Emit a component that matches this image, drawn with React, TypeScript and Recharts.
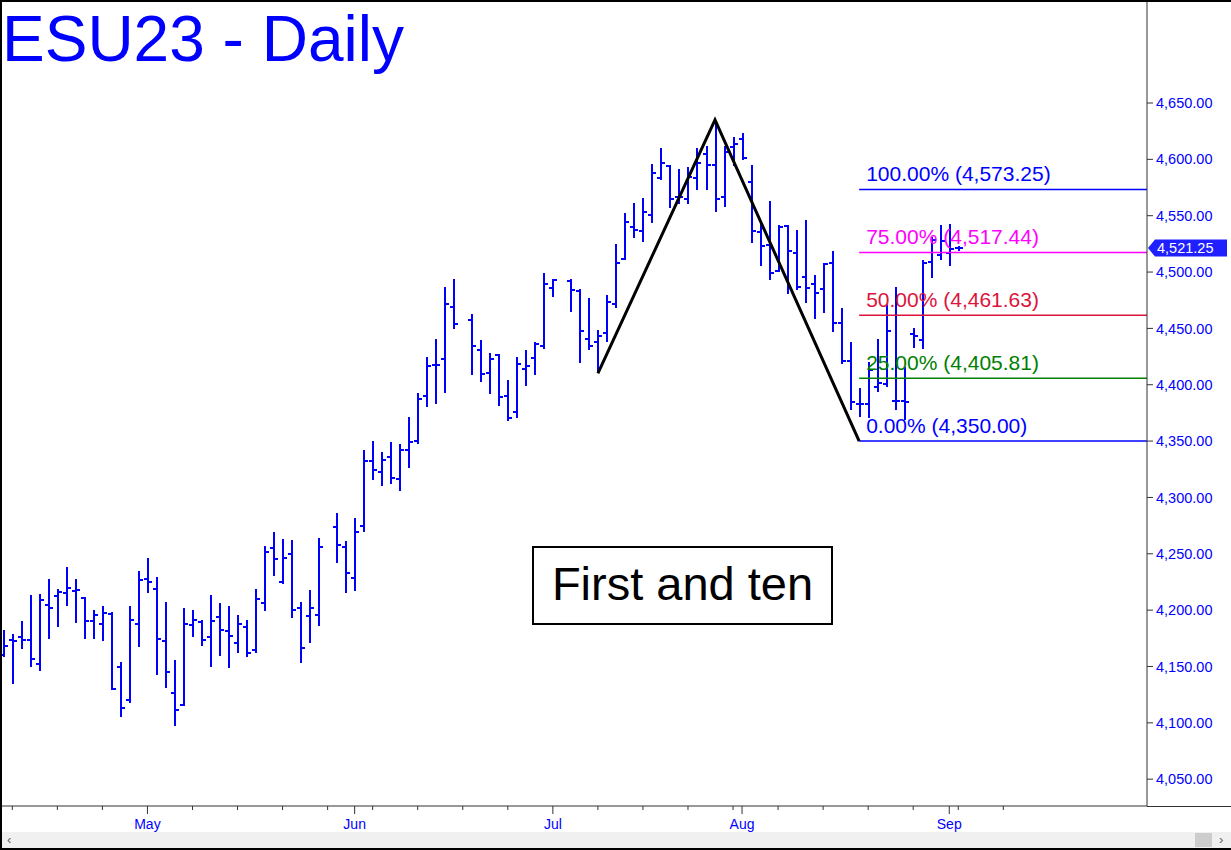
import React from "react";
import { ComposedChart, Bar, Line, XAxis, YAxis, ReferenceLine } from "recharts";

// calendar: one slot per weekday, exchange holidays left blank
const startDate = "2023-04-07";
const calendarEnd = "2023-09-11";
const holidays = ["2023-05-29", "2023-06-19", "2023-07-04"];
const monthNames = ["Jan", "Feb", "Mar", "Apr", "May", "Jun", "Jul", "Aug", "Sep", "Oct", "Nov", "Dec"];

// daily OHLC, one entry per session
const opens = [
  4160, 4174, 4176, 4173, 4152, 4205, 4213, 4215, 4217, 4211,
  4190, 4188, 4196, 4150, 4121, 4188, 4227, 4218, 4172, 4127,
  4116, 4187, 4189, 4176, 4194, 4182, 4171, 4185, 4165, 4206,
  4255, 4225, 4250, 4202, 4195, 4196,
  4274, 4256, 4229, 4275, 4332, 4322, 4336, 4316, 4342, 4350,
  4390, 4418, 4423, 4469,
  4458, 4431, 4410, 4426, 4390, 4376, 4414, 4424, 4434, 4486,
  4492, 4483, 4441, 4438, 4446, 4472, 4511, 4540, 4537, 4551,
  4583, 4594, 4566, 4565, 4583, 4605, 4595, 4567, 4611, 4618,
  4580, 4535, 4524, 4501, 4541, 4517, 4495, 4489, 4485, 4508,
  4455, 4421, 4383, 4383, 4398, 4401, 4386, 4386, 4445, 4440,
  4509, 4515, 4517, 4521,
];
const highs = [
  4182, 4179, 4190, 4213, 4214, 4228, 4219, 4238, 4228, 4212,
  4200, 4204, 4198, 4154, 4204, 4235, 4246, 4229, 4207, 4156,
  4202, 4200, 4191, 4213, 4206, 4204, 4196, 4191, 4219, 4257,
  4269, 4263, 4262, 4207, 4218, 4264,
  4286, 4261, 4282, 4342, 4350, 4340, 4349, 4347, 4371, 4393,
  4425, 4441, 4487, 4494,
  4463, 4440, 4428, 4427, 4404, 4425, 4431, 4438, 4499, 4494,
  4494, 4485, 4477, 4449, 4480, 4525, 4552, 4561, 4566, 4596,
  4610, 4595, 4591, 4593, 4610, 4612, 4634, 4612, 4620, 4623,
  4595, 4545, 4563, 4542, 4542, 4537, 4546, 4497, 4508, 4519,
  4468, 4438, 4397, 4420, 4441, 4472, 4487, 4416, 4450, 4511,
  4531, 4542, 4543, 4523,
];
const lows = [
  4158, 4135, 4165, 4149, 4146, 4175, 4185, 4203, 4189, 4175,
  4174, 4173, 4129, 4105, 4118, 4168, 4215, 4142, 4131, 4097,
  4115, 4176, 4168, 4149, 4159, 4149, 4162, 4158, 4162, 4199,
  4230, 4223, 4193, 4153, 4171, 4186,
  4242, 4215, 4217, 4269, 4315, 4310, 4312, 4305, 4326, 4348,
  4381, 4383, 4393, 4450,
  4409, 4403, 4392, 4381, 4368, 4371, 4399, 4409, 4432, 4478,
  4465, 4419, 4431, 4411, 4438, 4468, 4510, 4530, 4527, 4544,
  4582, 4557, 4560, 4560, 4573, 4573, 4553, 4558, 4594, 4599,
  4526, 4505, 4493, 4500, 4481, 4484, 4472, 4458, 4464, 4447,
  4418, 4378, 4371, 4370, 4394, 4398, 4378, 4369, 4432, 4432,
  4495, 4511, 4506, 4519,
];
const closes = [
  4168, 4173, 4173, 4156, 4209, 4202, 4216, 4219, 4218, 4191,
  4196, 4198, 4130, 4113, 4192, 4227, 4225, 4174, 4145, 4112,
  4188, 4191, 4173, 4190, 4182, 4177, 4188, 4162, 4210, 4252,
  4245, 4246, 4200, 4166, 4202, 4256,
  4258, 4233, 4270, 4332, 4324, 4333, 4317, 4342, 4349, 4388,
  4417, 4418, 4472, 4454,
  4435, 4410, 4423, 4389, 4370, 4419, 4417, 4436, 4489, 4493,
  4484, 4448, 4434, 4444, 4474, 4508, 4544, 4537, 4554, 4588,
  4597, 4565, 4566, 4584, 4597, 4595, 4565, 4607, 4614, 4601,
  4536, 4523, 4499, 4540, 4519, 4486, 4486, 4481, 4507, 4455,
  4421, 4385, 4383, 4413, 4402, 4448, 4386, 4385, 4443, 4508,
  4528, 4528, 4521, 4521.25,
];
const lastPrice = 4521.25;

// A-B-C swing drawn on the chart
const patternDates = ["2023-07-10", "2023-07-27", "2023-08-18"];
const patternPrices = [4410, 4635, 4350];

// retracement levels off the C low
const fibPercents = ["100.00%", "75.00%", "50.00%", "25.00%", "0.00%"];
const fibPrices = [4573.25, 4517.44, 4461.63, 4405.81, 4350.0];
const fibColors = ["#0000ff", "#ff00ff", "#dc143c", "#008000", "#0000ff"];

const priceTicks = [4050, 4100, 4150, 4200, 4250, 4300, 4350, 4400, 4450, 4500, 4550, 4600, 4650];
const yDomain = [4026.2, 4741.4];
const xDomain = [0.634, 127.95];

const BLUE = "#0000ff";
const FONT = "'Liberation Sans', Arial, sans-serif";

type Day = { slot: number; iso: string; wd: number; month: number };

function buildCalendar() {
  const days: Day[] = [];
  let t = Date.parse(startDate + "T00:00:00Z");
  const end = Date.parse(calendarEnd + "T00:00:00Z");
  let slot = 0;
  while (t <= end) {
    const d = new Date(t);
    const wd = d.getUTCDay();
    if (wd !== 0 && wd !== 6) {
      slot++;
      days.push({ slot, iso: d.toISOString().slice(0, 10), wd, month: d.getUTCMonth() });
    }
    t += 86400000;
  }
  return days;
}

const calendar = buildCalendar();
const sessions = calendar.filter((d) => !holidays.includes(d.iso));
const slotOf = (iso: string) => calendar.find((d) => d.iso === iso)!.slot;

const data = opens.map((o, i) => ({
  slot: sessions[i].slot,
  open: o,
  high: highs[i],
  low: lows[i],
  close: closes[i],
}));

const patternData = patternDates.map((iso, i) => ({ slot: slotOf(iso), price: patternPrices[i] }));
const fibStart = slotOf(patternDates[2]);

const majorTicks: Record<number, string> = {};
calendar.forEach((d, i) => {
  if (i > 0 && calendar[i - 1].month !== d.month) majorTicks[d.slot] = monthNames[d.month];
});
const xTicks = calendar.filter((d) => d.wd === 1 || majorTicks[d.slot]).map((d) => d.slot);

const fmtPrice = (v: number) =>
  v.toLocaleString("en-US", { minimumFractionDigits: 2, maximumFractionDigits: 2 });

const OhlcBar = (props: any) => {
  const { x, y, width, height, payload } = props;
  if (x == null || y == null) return null;
  const top = Math.round(Math.min(y, y + height));
  const h = Math.abs(height);
  const cx = Math.round(x + width / 2);
  const range = payload.high - payload.low || 1;
  const yOf = (v: number) => Math.round(top + ((payload.high - v) / range) * h);
  const oy = yOf(payload.open);
  const cy = yOf(payload.close);
  return (
    <g fill={BLUE} shapeRendering="crispEdges">
      <rect x={cx - 1} y={top} width={2} height={Math.max(Math.round(h), 2)} />
      <rect x={cx - 4} y={oy - 1} width={3} height={2} />
      <rect x={cx + 1} y={cy - 1} width={3} height={2} />
    </g>
  );
};

const DateTick = (props: any) => {
  const { x, y, payload } = props;
  const label = majorTicks[payload.value];
  return (
    <g>
      <line x1={x} x2={x} y1={y} y2={y + (label ? 8 : 4)} stroke="#333" strokeWidth={1} />
      {label && (
        <text x={x} y={y + 23} textAnchor="middle" fill={BLUE} fontSize={14} fontFamily={FONT}>
          {label}
        </text>
      )}
    </g>
  );
};

const fibLabel = (text: string, color: string) => (p: any) => {
  const vb = p.viewBox;
  return (
    <text x={vb.x + 7} y={vb.y - 8} fill={color} fontSize={21} fontFamily={FONT}>
      {text}
    </text>
  );
};

const priceTag = (p: any) => {
  const vb = p.viewBox;
  const x0 = vb.x + vb.width + 1;
  const yc = vb.y;
  return (
    <g>
      <path
        d={`M${x0},${yc} L${x0 + 7},${yc - 8.5} L${x0 + 79},${yc - 8.5} L${x0 + 79},${yc + 8.5} L${x0 + 7},${yc + 8.5} Z`}
        fill="#1f1fff"
      />
      <text x={x0 + 9} y={yc + 5} fill="#fff" fontSize={14.5} fontFamily={FONT}>
        {fmtPrice(lastPrice)}
      </text>
    </g>
  );
};

export default function App() {
  return (
    <div
      style={{
        position: "absolute",
        left: 0,
        top: 0,
        width: 1231,
        height: 850,
        background: "#fff",
        overflow: "hidden",
        fontFamily: FONT,
      }}
    >
      <div style={{ position: "absolute", left: 0, top: 0 }}>
        <ComposedChart width={1231} height={832} data={data} margin={{ top: 0, right: 0, bottom: 0, left: 0 }}>
          <XAxis
            dataKey="slot"
            type="number"
            domain={xDomain}
            allowDataOverflow
            ticks={xTicks}
            interval={0}
            tick={<DateTick />}
            tickLine={false}
            tickSize={0}
            tickMargin={0}
            height={26}
            axisLine={{ stroke: "#333" }}
          />
          <YAxis
            orientation="right"
            type="number"
            domain={yDomain}
            allowDataOverflow
            ticks={priceTicks}
            interval={0}
            width={84}
            tickSize={6}
            tickMargin={3}
            tickFormatter={fmtPrice}
            tick={{ fill: BLUE, fontSize: 14.5, fontFamily: FONT }}
            tickLine={{ stroke: "#333" }}
            axisLine={{ stroke: "#333" }}
          />
          {fibPrices.map((v, i) => (
            <ReferenceLine
              key={fibPercents[i]}
              segment={[
                { x: fibStart, y: v },
                { x: xDomain[1], y: v },
              ]}
              stroke={fibColors[i]}
              strokeWidth={1.5}
              ifOverflow="visible"
              label={fibLabel(`${fibPercents[i]} (${fmtPrice(v)})`, fibColors[i])}
            />
          ))}
          <ReferenceLine y={lastPrice} stroke="none" ifOverflow="visible" label={priceTag} />
          <Bar
            dataKey={(d: any) => [d.low, d.high]}
            barSize={8}
            shape={<OhlcBar />}
            isAnimationActive={false}
          />
          <Line
            data={patternData}
            dataKey="price"
            stroke="#000"
            strokeWidth={3}
            dot={false}
            activeDot={false}
            isAnimationActive={false}
          />
        </ComposedChart>
      </div>

      {/* title */}
      <div
        style={{
          position: "absolute",
          left: 2,
          top: 7,
          fontSize: 64,
          lineHeight: "64px",
          color: BLUE,
          whiteSpace: "nowrap",
        }}
      >
        ESU23 - Daily
      </div>

      {/* annotation box */}
      <div
        style={{
          position: "absolute",
          left: 532,
          top: 546,
          width: 301,
          height: 79,
          border: "2px solid #000",
          boxSizing: "border-box",
          background: "#fff",
        }}
      >
        <div
          style={{
            position: "absolute",
            left: 0,
            right: 0,
            top: 12,
            textAlign: "center",
            fontSize: 47,
            lineHeight: "47px",
            color: "#000",
            whiteSpace: "nowrap",
          }}
        >
          First and ten
        </div>
      </div>

      {/* axis line under the price scale */}
      <div style={{ position: "absolute", left: 1147, top: 806, width: 84, height: 1, background: "#333" }} />

      {/* scroll bar */}
      <div
        style={{
          position: "absolute",
          left: 0,
          top: 832,
          width: 1231,
          height: 16,
          background: "#f0f0f0",
          color: "#606060",
          fontSize: 13,
        }}
      >
        <span style={{ position: "absolute", left: 7, top: 0 }}>‹</span>
        <div style={{ position: "absolute", left: 1195, top: 1, width: 17, height: 14, background: "#cdcdcd" }} />
        <span style={{ position: "absolute", left: 1219, top: 0 }}>›</span>
      </div>

      {/* frame */}
      <div style={{ position: "absolute", left: 0, top: 0, width: 1231, height: 2, background: "#000" }} />
      <div style={{ position: "absolute", left: 0, top: 0, width: 2, height: 850, background: "#000" }} />
      <div style={{ position: "absolute", left: 0, top: 848, width: 1231, height: 2, background: "#000" }} />
    </div>
  );
}
